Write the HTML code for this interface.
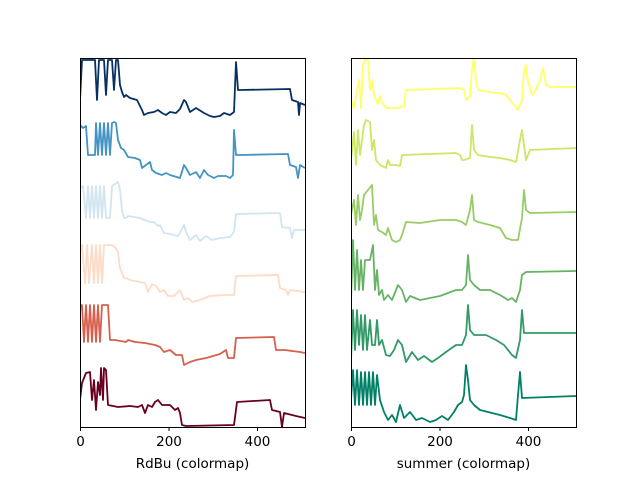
<!DOCTYPE html>
<html><head><style>body{margin:0;background:#fff}svg{display:block}</style></head><body>
<svg width="640" height="480" xmlns="http://www.w3.org/2000/svg" font-family="DejaVu Sans, Liberation Sans, sans-serif">
<defs>
<clipPath id="c1"><rect x="80" y="58" width="225" height="369"/></clipPath>
<clipPath id="c2"><rect x="351" y="58" width="225" height="369"/></clipPath>
</defs>
<g fill="none" stroke-width="1.8" stroke-linejoin="round" clip-path="url(#c1)">
<polyline stroke="#053061" points="80,100 82,60 95,60 97,100 99,60 104,60 106,95 108,60 112,60 114,90 116,60 118,60 120,85 122,92 124,97 126,95 130,98 137,100 142,110 144,115 148,113 154,112 158,110 162,113 166,115 170,112 176,113 180,109 184,100 186,102 190,112 196,108 204,113 210,116 214,117 220,116 224,113 230,115 234,112 236,62 238,90 240,90 290,89 292,100 298,102 299,115 300,103 305,105"/>
<polyline stroke="#4393c3" points="80,125 83,128 86,126 88,155 95,155 96,123 98,155 100,123 102,155 104,123 106,155 108,123 110,155 112,123 114,122 116,123 118,140 121,148 124,150 128,157 135,158 140,160 142,168 146,165 150,162 152,170 156,173 162,175 166,173 170,175 180,178 184,165 186,168 190,175 196,172 200,178 204,170 208,175 214,178 218,176 226,176 230,178 233,175 234,130 236,155 240,155 288,154 290,165 296,167 298,178 300,165 305,168"/>
<polyline stroke="#d1e5f0" points="80,188 83,186 86,218 88,186 90,218 92,186 94,218 96,186 98,218 100,186 102,218 104,186 106,218 110,218 112,186 118,182 120,190 122,210 124,218 126,218 128,216 140,218 150,222 154,222 158,226 160,225 164,233 170,234 178,236 184,225 186,232 190,240 196,235 200,241 206,236 212,240 220,238 230,237 234,232 236,214 280,213 282,227 290,228 292,238 294,230 305,230"/>
<polyline stroke="#fddbc7" points="80,250 82,245 85,283 87,245 89,283 92,245 94,283 96,245 98,283 100,245 102,283 104,245 110,245 114,246 118,252 120,268 124,278 126,278 130,280 145,283 148,292 152,284 156,286 160,292 164,290 168,296 174,296 180,290 184,300 188,298 192,302 200,300 210,296 224,295 234,295 236,276 278,275 280,288 286,290 288,295 290,290 305,292"/>
<polyline stroke="#d6604d" points="80,310 82,305 84,342 86,305 88,342 90,305 92,342 94,305 96,342 98,305 100,342 102,305 108,305 110,340 115,340 126,342 128,340 135,342 145,343 155,345 160,347 164,352 170,350 176,355 182,355 184,365 190,362 196,360 206,358 220,354 226,350 228,358 234,358 236,338 274,337 276,350 285,350 292,351 300,352 305,353"/>
<polyline stroke="#67001f" points="80,400 82,383 86,373 90,372 92,400 94,380 96,410 98,382 100,395 101,368 103,400 104,368 106,370 108,405 118,407 130,406 138,407 142,405 145,413 148,405 152,407 155,402 158,400 162,405 170,405 175,410 178,408 180,413 182,425 186,426 234,425 237,402 270,400 272,410 280,412 282,427 284,413 296,416 305,418"/>
</g>
<g fill="none" stroke-width="1.8" stroke-linejoin="round" clip-path="url(#c2)">
<polyline stroke="#ffff66" points="351,100 354,108 357,90 359,80 361,108 363,65 365,60 368,60 370,90 372,80 374,95 376,100 378,104 380,96 382,102 386,108 390,108 398,108 404,106 406,90 460,88 464,90 466,100 470,96 472,70 474,58 476,80 478,90 490,92 505,94 510,100 514,105 518,110 522,100 524,72 526,65 528,82 532,95 536,90 540,80 543,68 546,85 550,87 576,87"/>
<polyline stroke="#cce666" points="351,160 354,132 356,165 358,130 360,155 362,140 364,125 366,120 370,122 372,150 374,140 376,160 380,165 386,168 388,160 390,165 396,165 400,166 402,155 456,153 460,155 462,160 464,160 470,158 472,125 474,150 478,155 490,157 500,158 510,160 516,162 520,140 522,130 526,160 530,150 576,148"/>
<polyline stroke="#99cc66" points="351,215 354,200 356,225 358,195 360,220 362,210 364,195 372,185 374,225 376,215 378,230 382,232 386,235 388,228 392,240 396,242 400,240 402,235 406,222 420,223 440,220 456,220 462,222 466,225 470,210 472,195 474,220 478,222 490,225 500,228 506,238 512,240 518,240 522,218 524,190 526,210 530,213 576,212"/>
<polyline stroke="#66b366" points="351,300 353,240 355,290 357,250 359,290 361,260 363,290 365,260 370,260 373,245 375,290 377,270 379,295 382,290 384,300 388,295 392,300 398,285 402,290 406,302 410,296 420,300 430,298 440,296 456,290 462,290 466,285 468,255 470,280 474,285 480,290 490,290 500,295 505,298 508,300 512,298 516,302 520,290 522,275 526,272 576,271"/>
<polyline stroke="#339966" points="351,360 353,310 355,350 357,310 359,345 361,315 363,350 365,315 367,350 370,320 372,345 375,345 377,320 379,345 382,340 386,355 390,356 394,350 398,340 402,345 406,362 412,352 418,360 424,356 432,362 438,358 446,352 456,345 462,345 466,335 468,305 470,330 474,335 486,335 496,340 504,345 512,355 516,358 520,340 522,310 524,333 576,333"/>
<polyline stroke="#008066" points="351,400 353,370 355,405 357,370 359,405 361,372 363,405 365,372 367,405 369,372 371,405 373,372 375,405 377,375 380,400 384,412 388,420 392,415 396,422 400,405 404,418 410,412 416,420 422,418 430,422 436,420 442,416 448,420 454,412 458,405 462,402 464,395 466,365 468,380 470,400 474,405 480,410 488,412 500,415 510,418 516,420 518,395 520,372 522,398 576,396"/>
</g>
<g fill="none" stroke="#000" stroke-width="1">
<rect x="80.5" y="58.5" width="225" height="369"/>
<rect x="351.5" y="58.5" width="225" height="369"/>
<path d="M80.5,427.5v3.5M169,427.5v3.5M257.5,427.5v3.5M351.5,427.5v3.5M440,427.5v3.5M528.5,427.5v3.5"/>
</g>
<g font-size="13.5" text-anchor="middle" fill="#000">
<text x="80.5" y="446">0</text><text x="169" y="446">200</text><text x="257.5" y="446">400</text>
<text x="351.5" y="446">0</text><text x="440" y="446">200</text><text x="528.5" y="446">400</text>
<text x="192.5" y="468">RdBu (colormap)</text>
<text x="463.5" y="468">summer (colormap)</text>
</g>
</svg>
</body></html>
